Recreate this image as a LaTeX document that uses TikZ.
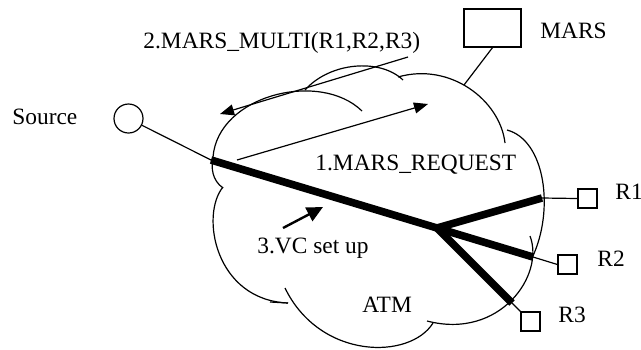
\documentclass[tikz,border=0pt]{standalone}
\usepackage{fontspec}
\setmainfont{Liberation Serif}
\usetikzlibrary{positioning, arrows.meta, calc}

\tikzset{
  lbl/.style={anchor=base west, inner sep=0pt, font=\fontsize{11.7}{14}\selectfont},
  termbox/.style={draw, line width=0.6pt, minimum width=9.5pt, minimum height=9.5pt, inner sep=0pt},
  cloudarc/.style={line width=0.6pt},
  wire/.style={line width=0.6pt},
  trunk/.style={line width=3.8pt, line join=round},
  msg/.style={line width=0.6pt, -{Triangle[length=7pt,width=5.5pt]}},
}

\begin{document}
\begin{tikzpicture}[x=0.5pt, y=-0.5pt]
    \useasboundingbox (0,0) rectangle (641,349);

    % hosts and server
    \node[circle, draw, line width=0.6pt, minimum size=14.5pt, inner sep=0pt] (src) at (128.5,118.5) {};
    \node[termbox, minimum width=28.5pt, minimum height=19pt] (mars) at (492.5,28) {};
    \node[termbox] (r1) at (587.5,198.5) {};
    \node[termbox] (r2) at (567.5,264.5) {};
    \node[termbox] (r3) at (530.5,321.5) {};

    % points on the cloud
    \coordinate (entry) at (211,160);
    \coordinate (hub) at (437,228);
    \coordinate (j1) at (542,198);
    \coordinate (j2) at (533,257);
    \coordinate (j3) at (512,303);
    \coordinate (marsfoot) at (464,85);

    % the ATM cloud
    \draw[cloudarc] (223,188) .. controls (212,180) and (211,168) .. (213,157)
                    .. controls (218,95) and (320,70) .. (362,111);
    \draw[cloudarc] (305,90) .. controls (330,62) and (380,58) .. (403,80);
    \draw[cloudarc] (398,77) .. controls (450,62) and (500,100) .. (505,143);
    \draw[cloudarc] (507,130) .. controls (545,140) and (555,210) .. (532,258);
    \draw[cloudarc] (530,236) .. controls (545,275) and (500,340) .. (427,321);
    \draw[cloudarc] (433,323) .. controls (410,360) and (320,360) .. (285,288);
    \draw[cloudarc] (223,187) .. controls (200,215) and (215,300) .. (288,303);
    \draw[cloudarc] (270,302) -- (288,303);

    % access lines
    \draw[wire] (src) -- (entry);
    \draw[wire] (mars.south) -- (marsfoot);
    \draw[wire] (j1) -- (r1.west);
    \draw[wire] (j2) -- (r2.west);
    \draw[wire] (j3) -- (r3.north west);

    % point-to-multipoint VC
    \draw[trunk] (entry) -- (hub) -- (j1);
    \draw[trunk] (hub) -- (j2);
    \draw[trunk] (hub) -- (j3);

    % signalling
    \coordinate (reqfrom) at (237,160);
    \coordinate (reqto) at (428,104);
    \coordinate (multifrom) at (408,57);
    \coordinate (multito) at (220,114);
    \coordinate (vcfrom) at (283,228);
    \coordinate (vcto) at (323,207);
    \draw[msg] (reqfrom) -- (reqto);
    \draw[msg] (multifrom) -- (multito);
    \draw[line width=1.2pt, -{Triangle[length=8pt,width=7.5pt]}] (vcfrom) -- (vcto);

    % labels
    \node[lbl] (srclbl) at (12,124) {Source};
    \node[lbl] (multilbl) at (143,48) {2.MARS\_MULTI(R1,R2,R3)};
    \node[lbl] (marslbl) at (540,38) {MARS};
    \node[lbl] (reqlbl) at (315,170) {1.MARS\_REQUEST};
    \node[lbl] (vclbl) at (257,253) {3.VC set up};
    \node[lbl] (atmlbl) at (362,312) {ATM};
    \node[lbl] (r1lbl) at (615,199) {R1};
    \node[lbl] (r2lbl) at (597,266) {R2};
    \node[lbl] (r3lbl) at (558,322) {R3};
\end{tikzpicture}
\end{document}
